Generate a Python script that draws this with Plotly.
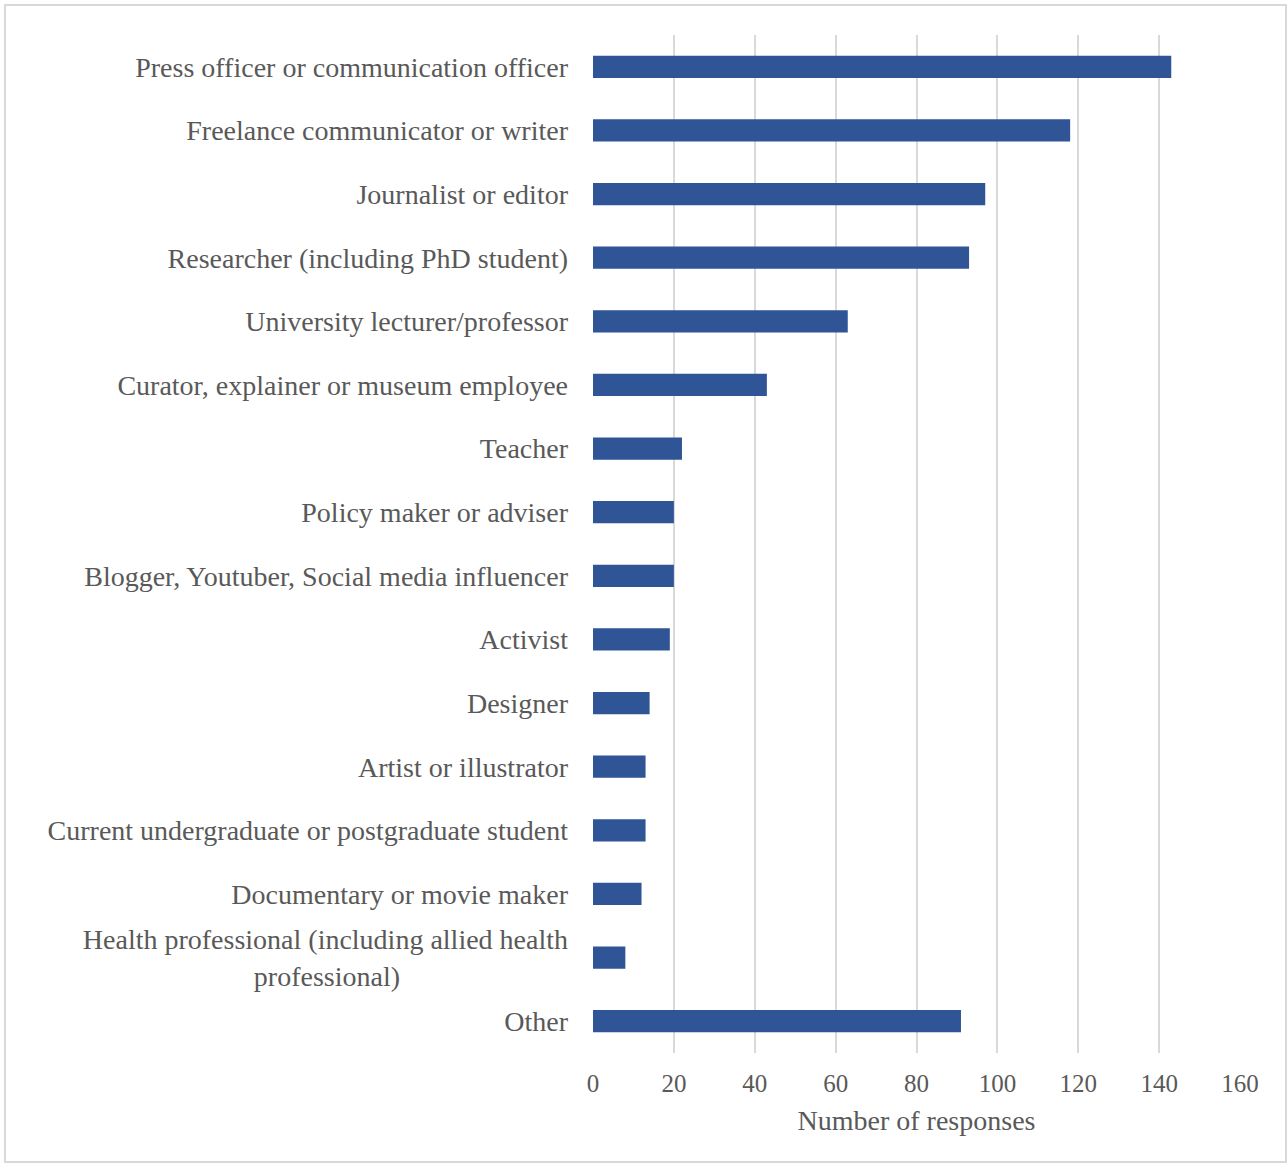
import plotly.graph_objects as go

categories = [
    "Press officer or communication officer",
    "Freelance communicator or writer",
    "Journalist or editor",
    "Researcher (including PhD student)",
    "University lecturer/professor",
    "Curator, explainer or museum employee",
    "Teacher",
    "Policy maker or adviser",
    "Blogger, Youtuber, Social media influencer",
    "Activist",
    "Designer",
    "Artist or illustrator",
    "Current undergraduate or postgraduate student",
    "Documentary or movie maker",
    "Health professional (including allied health<br>professional)" + "\u00a0" * 24,
    "Other",
]
responses = [143, 118, 97, 93, 63, 43, 22, 20, 20, 19, 14, 13, 13, 12, 8, 91]
x_ticks = [0, 20, 40, 60, 80, 100, 120, 140, 160]

FONT = "Liberation Serif"
TXT = "#595959"

fig = go.Figure(go.Bar(
    x=responses, y=categories, orientation="h",
    marker=dict(color="#2F5597", line=dict(width=0)),
    width=0.35,
))

W, H = 1287, 1164
L, R, T, B = 593, 47, 35, 111
pw, ph = W - L - R, H - T - B

fig.update_layout(
    width=W, height=H,
    margin=dict(l=L, r=R, t=T, b=B),
    paper_bgcolor="white", plot_bgcolor="white",
    font=dict(family=FONT, color=TXT, size=28),
    showlegend=False,
    xaxis=dict(
        range=[0, 160], tickvals=x_ticks, showgrid=True,
        gridcolor="#D9D9D9", gridwidth=2, zeroline=False,
        showline=False, ticks="", tickfont=dict(size=25, color=TXT),
        title=dict(text="Number of responses", font=dict(size=28, color=TXT), standoff=14),
        ticklabelstandoff=13,
    ),
    yaxis=dict(
        autorange="reversed", showgrid=False, showline=False, ticks="",
        tickfont=dict(size=28, color=TXT), ticklabelstandoff=24,
    ),
    shapes=[dict(
        type="rect", xref="paper", yref="paper",
        x0=(5 - L) / pw, x1=(1286 - L) / pw,
        y0=(H - B - 1162) / ph, y1=(H - B - 5) / ph,
        line=dict(color="#D9D9D9", width=2), layer="below",
    )],
)

fig.write_html("out.html")
